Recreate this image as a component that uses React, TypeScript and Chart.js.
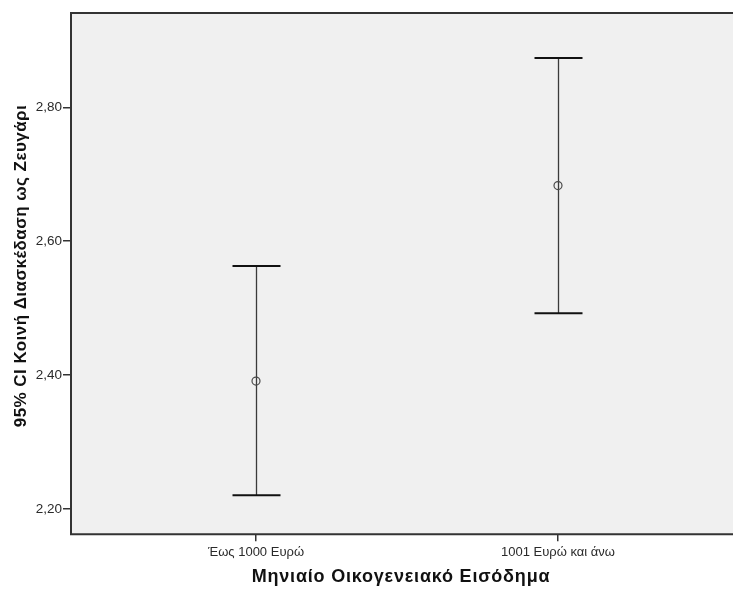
import React, { useEffect, useRef } from "react";
import { Chart, registerables } from "chart.js";

Chart.register(...registerables);

const categories = ["Έως 1000 Ευρώ", "1001 Ευρώ και άνω"];
const means = [2.391, 2.683];
const lowerCI = [2.2205, 2.4925];
const upperCI = [2.563, 2.8735];
const yTickValues = [2.2, 2.4, 2.6, 2.8];
const yTitle = "95% CI Κοινή Διασκέδαση ως Ζευγάρι";
const xTitle = "Μηνιαίο Οικογενειακό Εισόδημα";

const Y_MIN = 2.1622;
const Y_MAX = 2.9408;
const X_MIN = -0.6126;
const X_MAX = 1.5795;

const FONT = "'Liberation Sans', Arial, sans-serif";

export default function App() {
  const ref = useRef<HTMLCanvasElement | null>(null);

  useEffect(() => {
    const canvas = ref.current;
    if (!canvas) return;

    const bgPlugin = {
      id: "bgFrame",
      beforeDraw(chart: any) {
        const { ctx, chartArea } = chart;
        ctx.save();
        ctx.fillStyle = "#ffffff";
        ctx.fillRect(0, 0, chart.width, chart.height);
        ctx.fillStyle = "#f0f0f0";
        ctx.fillRect(chartArea.left, chartArea.top, chart.width - chartArea.left, chartArea.bottom - chartArea.top);
        ctx.restore();
      },
      beforeDatasetsDraw(chart: any) {
        const { ctx } = chart;
        const xs = chart.scales.x;
        const ys = chart.scales.y;
        ctx.save();
        for (let i = 0; i < means.length; i++) {
          const x = Math.round(xs.getPixelForValue(i)) + 0.5;
          const yl = ys.getPixelForValue(lowerCI[i]);
          const yu = ys.getPixelForValue(upperCI[i]);
          ctx.strokeStyle = "#3a3a3a";
          ctx.lineWidth = 1.3;
          ctx.beginPath();
          ctx.moveTo(x, yu);
          ctx.lineTo(x, yl);
          ctx.stroke();
          ctx.strokeStyle = "#111111";
          ctx.lineWidth = 2;
          ctx.beginPath();
          ctx.moveTo(x - 24, yu);
          ctx.lineTo(x + 24, yu);
          ctx.moveTo(x - 24, yl);
          ctx.lineTo(x + 24, yl);
          ctx.stroke();
        }
        ctx.restore();
      },
      afterDraw(chart: any) {
        const { ctx, chartArea } = chart;
        ctx.save();
        ctx.strokeStyle = "#333333";
        ctx.lineWidth = 2;
        ctx.beginPath();
        ctx.moveTo(chart.width + 2, chartArea.top);
        ctx.lineTo(chartArea.left, chartArea.top);
        ctx.lineTo(chartArea.left, chartArea.bottom);
        ctx.lineTo(chart.width + 2, chartArea.bottom);
        ctx.stroke();

        ctx.fillStyle = "#111111";
        ctx.textAlign = "center";
        ctx.textBaseline = "middle";
        ctx.font = `bold 18px ${FONT}`;
        (ctx as any).letterSpacing = "0.8px";
        ctx.fillText(xTitle, 401, 577);
        ctx.font = `bold 17px ${FONT}`;
        (ctx as any).letterSpacing = "0.45px";
        ctx.translate(21, 266);
        ctx.rotate(-Math.PI / 2);
        ctx.fillText(yTitle, 0, 0);
        ctx.restore();
      },
    };

    const chart = new Chart(canvas, {
      type: "scatter",
      data: {
        datasets: [
          {
            data: means.map((m, i) => ({ x: i, y: m })),
            pointStyle: "circle",
            pointRadius: 4,
            pointHoverRadius: 4,
            borderColor: "#4a4a4a",
            borderWidth: 1.2,
            backgroundColor: "rgba(0,0,0,0)",
            showLine: false,
          },
        ],
      },
      options: {
        responsive: false,
        animation: false,
        events: [],
        layout: { autoPadding: false, padding: { top: 13, right: 0, left: 0, bottom: 0 } },
        plugins: {
          legend: { display: false },
          tooltip: { enabled: false },
          title: { display: false },
        },
        scales: {
          x: {
            type: "linear",
            min: X_MIN,
            max: X_MAX,
            afterBuildTicks(scale: any) {
              scale.ticks = categories.map((_, i) => ({ value: i }));
            },
            afterFit(scale: any) {
              scale.height = 590 - 13 - 521.3;
              scale.paddingLeft = 0;
              scale.paddingRight = 0;
            },
            ticks: {
              autoSkip: false,
              maxRotation: 0,
              padding: 3,
              color: "#2a2a2a",
              font: { family: FONT, size: 13 },
              callback: (v: any) => categories[v as number] ?? "",
            },
            grid: {
              display: true,
              drawOnChartArea: false,
              drawTicks: true,
              tickLength: 7,
              color: "#333333",
              lineWidth: 1.5,
            },
            border: { display: false },
          },
          y: {
            type: "linear",
            min: Y_MIN,
            max: Y_MAX,
            afterBuildTicks(scale: any) {
              scale.ticks = yTickValues.map((v) => ({ value: v }));
            },
            afterFit(scale: any) {
              scale.width = 71;
              scale.paddingTop = 0;
              scale.paddingBottom = 0;
            },
            ticks: {
              padding: 1,
              color: "#2a2a2a",
              font: { family: FONT, size: 13.5 },
              callback: (v: any) => Number(v).toFixed(2).replace(".", ","),
            },
            grid: {
              display: true,
              drawOnChartArea: false,
              drawTicks: true,
              tickLength: 8,
              color: "#333333",
              lineWidth: 1.5,
            },
            border: { display: false },
          },
        },
      },
      plugins: [bgPlugin],
    } as any);

    return () => chart.destroy();
  }, []);

  return (
    <div style={{ position: "absolute", left: 0, top: 0, width: 733, height: 590, overflow: "hidden", background: "#fff" }}>
      <canvas ref={ref} width={733} height={590} style={{ width: 733, height: 590, display: "block" }} />
    </div>
  );
}
